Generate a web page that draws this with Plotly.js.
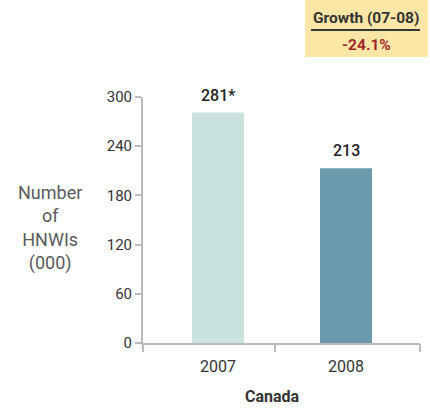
<!DOCTYPE html>
<html>
<head>
<meta charset="utf-8">
<script src="https://cdn.plot.ly/plotly-3.0.1.min.js"></script>
<style>html,body{margin:0;padding:0;background:#fff;}#chart{width:430px;height:410px;}</style>
</head>
<body>
<div id="chart"></div>
<script>
const categories = ["2007", "2008"];
const values = [281, 213];
const valueLabels = ["281*", "213"];
const barColors = ["#cae3e0", "#6b9aaf"];
const yTicks = [0, 60, 120, 180, 240, 300];
const growthTitle = "Growth (07-08)";
const growthValue = "-24.1%";
const xTitle = "Canada";
const yTitleLines = ["Number", "of", "HNWIs", "(000)"];

const FONT = "Roboto, 'DejaVu Sans', sans-serif";
const L = 143, R = 10, T = 97, B = 67;
const W = 430 - L - R, H = 410 - T - B;
const px = x => (x - L) / W;
const py = y => (410 - B - y) / H;

// x range in category units (category spacing 128px, first centre 75px from left)
const XR = [-0.586, 1.578];
const xBoundaryTicks = [-0.586, 0.445, 1.578];

const trace = {
  type: "bar",
  x: categories,
  y: values,
  marker: {color: barColors, line: {width: 0}},
  width: 0.406,
  textposition: "none",
  hoverinfo: "skip"
};
// empty helper trace so the boundary-tick axis is drawn
const tickHelper = {
  type: "scatter", mode: "markers", x: [], y: [],
  xaxis: "x2", yaxis: "y", hoverinfo: "skip", showlegend: false
};

const annotations = categories.map((c, i) => ({
  x: i, y: values[i], xref: "x", yref: "y",
  text: valueLabels[i], showarrow: false,
  xanchor: "center", yanchor: "bottom", yshift: 6,
  font: {family: FONT, size: 16, color: "#222", weight: 500}
}));

annotations.push({
  xref: "paper", yref: "paper", x: px(50), y: py(228),
  text: yTitleLines.join("<br>"), showarrow: false,
  xanchor: "center", yanchor: "middle", align: "center",
  font: {family: FONT, size: 18, color: "#5a5a5a"}
});
annotations.push({
  xref: "paper", yref: "paper", x: px(272), y: py(396),
  text: "<b>" + xTitle + "</b>", showarrow: false,
  xanchor: "center", yanchor: "middle",
  font: {family: FONT, size: 16, color: "#333"}
});
annotations.push({
  xref: "paper", yref: "paper", x: px(366), y: py(18),
  text: "<b>" + growthTitle + "</b>", showarrow: false,
  xanchor: "center", yanchor: "middle",
  font: {family: FONT, size: 15.5, color: "#333"}
});
annotations.push({
  xref: "paper", yref: "paper", x: px(366), y: py(45),
  text: "<b>" + growthValue + "</b>", showarrow: false,
  xanchor: "center", yanchor: "middle",
  font: {family: FONT, size: 15.5, color: "#a3262a"}
});

const layout = {
  width: 430, height: 410,
  margin: {l: L, r: R, t: T, b: B, pad: 0},
  paper_bgcolor: "#fff", plot_bgcolor: "#fff",
  showlegend: false,
  font: {family: FONT, size: 15, color: "#333"},
  xaxis: {
    type: "category", range: XR,
    ticks: "", ticklabelstandoff: 8,
    showline: true, linecolor: "#bbb", linewidth: 2,
    showgrid: false, zeroline: false,
    tickfont: {family: FONT, size: 16, color: "#333"}
  },
  xaxis2: {
    type: "linear", overlaying: "x", anchor: "y", side: "bottom", range: XR,
    tickmode: "array", tickvals: xBoundaryTicks, showticklabels: false,
    ticks: "outside", ticklen: 8, tickwidth: 2, tickcolor: "#bbb",
    showline: false, showgrid: false, zeroline: false
  },
  yaxis: {
    range: [0, 300], tickvals: yTicks, ticktext: yTicks.map(String),
    ticks: "outside", ticklen: 6, tickwidth: 2, tickcolor: "#bbb",
    showline: true, linecolor: "#bbb", linewidth: 2,
    showgrid: false, zeroline: false,
    tickfont: {family: FONT, size: 15, color: "#333"}
  },
  shapes: [
    {type: "rect", xref: "paper", yref: "paper",
     x0: px(305), x1: px(428), y0: py(57), y1: py(0),
     fillcolor: "#fde6a6", line: {width: 0}, layer: "below"},
    {type: "line", xref: "paper", yref: "paper",
     x0: px(311), x1: px(420), y0: py(30), y1: py(30),
     line: {color: "#333", width: 2}}
  ],
  annotations: annotations
};

Plotly.newPlot("chart", [trace, tickHelper], layout, {displayModeBar: false, staticPlot: true});
</script>
</body>
</html>
